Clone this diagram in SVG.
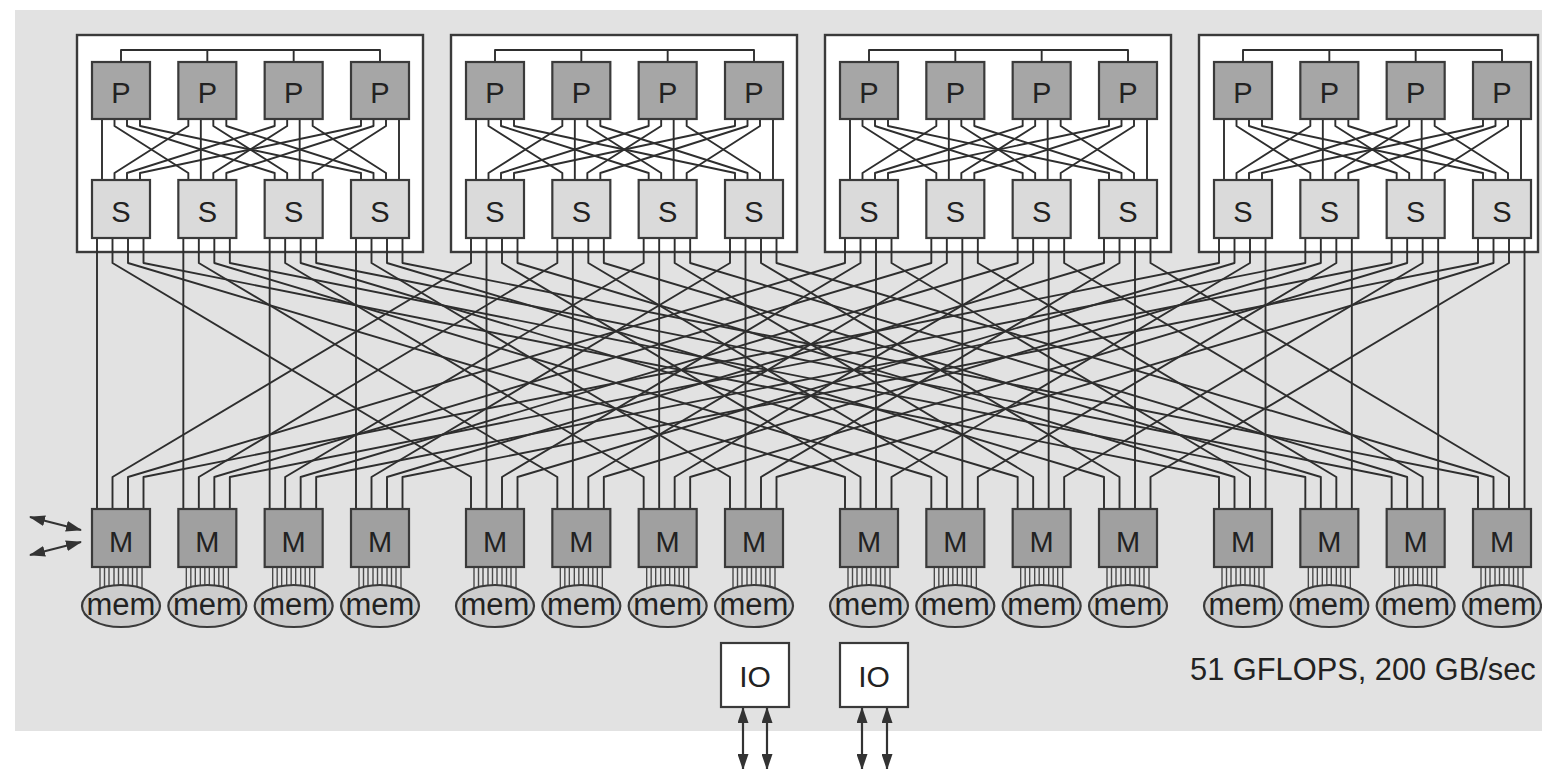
<svg xmlns="http://www.w3.org/2000/svg" xmlns:xlink="http://www.w3.org/1999/xlink" width="1542" height="769" viewBox="0 0 1542 769">
<style>
.bg{fill:#e2e2e2;stroke:none}
.mod{fill:#ffffff;stroke:#3a3a3a;stroke-width:2.4}
.p{fill:#a6a6a6;stroke:#3a3a3a;stroke-width:2.2}
.s{fill:#dadada;stroke:#3a3a3a;stroke-width:2.2}
.m{fill:#a0a0a0;stroke:#3a3a3a;stroke-width:2.2}
.mem{fill:#cdcdcd;stroke:#3a3a3a;stroke-width:2.2}
.io{fill:#ffffff;stroke:#3a3a3a;stroke-width:2.2}
.lbl{font-family:"Liberation Sans",Arial,sans-serif;font-size:29px;fill:#222;text-anchor:middle}
.meml{font-family:"Liberation Sans",Arial,sans-serif;font-size:31px;fill:#222;text-anchor:middle}
.note{font-family:"Liberation Sans",Arial,sans-serif;font-size:30.8px;fill:#222}
.wire{fill:none;stroke:#2e2e2e;stroke-width:1.9;stroke-linejoin:round}
.comb{stroke:#4a4a4a;stroke-width:1.4}
.arr{stroke:#333;stroke-width:2.2;fill:none;marker-start:url(#ah);marker-end:url(#ah)}
</style>
<defs>
<marker id="ah" viewBox="0 0 16 11" refX="15" refY="5.5" markerWidth="16" markerHeight="11" markerUnits="userSpaceOnUse" orient="auto-start-reverse"><path d="M0,0 L16,5.5 L0,11 z" fill="#333"/></marker>
<g id="modwire" class="wire">
<path d="M121,62 V50 H380 V62 M207.33,50 V62 M293.67,50 V62"/>
<path d="M102,119 V180"/>
<path d="M114.5,119 V126 L188.33,173 V180"/>
<path d="M127,119 V126 L274.67,173 V180"/>
<path d="M140,119 V126 L361,173 V180"/>
<path d="M188.33,119 V126 L114.5,173 V180"/>
<path d="M200.83,119 V180"/>
<path d="M213.33,119 V126 L287.17,173 V180"/>
<path d="M226.33,119 V126 L373.5,173 V180"/>
<path d="M274.67,119 V126 L127,173 V180"/>
<path d="M287.17,119 V126 L213.33,173 V180"/>
<path d="M299.67,119 V180"/>
<path d="M312.67,119 V126 L386,173 V180"/>
<path d="M361,119 V126 L140,173 V180"/>
<path d="M373.5,119 V126 L226.33,173 V180"/>
<path d="M386,119 V126 L312.67,173 V180"/>
<path d="M399,119 V180"/>
</g>
<g id="smwire" class="wire">
<path d="M97,238 V509"/>
<path d="M112.5,238 V263 L471,477 V509"/>
<path d="M128,238 V263 L845,477 V509"/>
<path d="M143.5,238 V263 L1219,477 V509"/>
<path d="M471,238 V263 L112.5,477 V509"/>
<path d="M486.5,238 V509"/>
<path d="M502,238 V263 L860.5,477 V509"/>
<path d="M517.5,238 V263 L1234.5,477 V509"/>
<path d="M845,238 V263 L128,477 V509"/>
<path d="M860.5,238 V263 L502,477 V509"/>
<path d="M876,238 V509"/>
<path d="M891.5,238 V263 L1250,477 V509"/>
<path d="M1219,238 V263 L143.5,477 V509"/>
<path d="M1234.5,238 V263 L517.5,477 V509"/>
<path d="M1250,238 V263 L891.5,477 V509"/>
<path d="M1265.5,238 V509"/>
</g>
<g id="comb" class="comb">
<line x1="8" y1="567" x2="8" y2="592"/><line x1="12.5" y1="567" x2="12.5" y2="592"/>
<line x1="17" y1="567" x2="17" y2="592"/><line x1="22" y1="567" x2="22" y2="592"/>
<line x1="26.5" y1="567" x2="26.5" y2="592"/><line x1="31" y1="567" x2="31" y2="592"/>
<line x1="36" y1="567" x2="36" y2="592"/><line x1="40.5" y1="567" x2="40.5" y2="592"/>
<line x1="45" y1="567" x2="45" y2="592"/><line x1="50" y1="567" x2="50" y2="592"/>
</g>
</defs>

<rect class="bg" x="15" y="10" width="1527" height="721"/>

<g id="modules">
<rect id="module-1" class="mod" x="77" y="35" width="346" height="217"/>
<rect id="module-2" class="mod" x="451" y="35" width="346" height="217"/>
<rect id="module-3" class="mod" x="825" y="35" width="346" height="217"/>
<rect id="module-4" class="mod" x="1199" y="35" width="339" height="217"/>
</g>

<g id="connectors">
<use xlink:href="#modwire" href="#modwire"/>
<use xlink:href="#modwire" href="#modwire" x="374"/>
<use xlink:href="#modwire" href="#modwire" x="748"/>
<use xlink:href="#modwire" href="#modwire" x="1122"/>
<use xlink:href="#smwire" href="#smwire"/>
<use xlink:href="#smwire" href="#smwire" x="86.33"/>
<use xlink:href="#smwire" href="#smwire" x="172.67"/>
<use xlink:href="#smwire" href="#smwire" x="259"/>
<use href="#comb" x="92"/><use href="#comb" x="178.33"/><use href="#comb" x="264.67"/><use href="#comb" x="351"/>
<use href="#comb" x="466"/><use href="#comb" x="552.33"/><use href="#comb" x="638.67"/><use href="#comb" x="725"/>
<use href="#comb" x="840"/><use href="#comb" x="926.33"/><use href="#comb" x="1012.67"/><use href="#comb" x="1099"/>
<use href="#comb" x="1214"/><use href="#comb" x="1300.33"/><use href="#comb" x="1386.67"/><use href="#comb" x="1473"/>
<line class="arr" x1="30" y1="517" x2="81" y2="530"/>
<line class="arr" x1="30" y1="555" x2="81" y2="542"/>
<line class="arr" x1="743" y1="708" x2="743" y2="769"/>
<line class="arr" x1="767" y1="708" x2="767" y2="769"/>
<line class="arr" x1="862" y1="708" x2="862" y2="769"/>
<line class="arr" x1="887" y1="708" x2="887" y2="769"/>
</g>

<g id="P-1-1"><rect class="p" x="92" y="62" width="58" height="57"/><text class="lbl" x="121" y="103">P</text></g>
<g id="P-1-2"><rect class="p" x="178.33" y="62" width="58" height="57"/><text class="lbl" x="207.33" y="103">P</text></g>
<g id="P-1-3"><rect class="p" x="264.67" y="62" width="58" height="57"/><text class="lbl" x="293.67" y="103">P</text></g>
<g id="P-1-4"><rect class="p" x="351" y="62" width="58" height="57"/><text class="lbl" x="380" y="103">P</text></g>
<g id="P-2-1"><rect class="p" x="466" y="62" width="58" height="57"/><text class="lbl" x="495" y="103">P</text></g>
<g id="P-2-2"><rect class="p" x="552.33" y="62" width="58" height="57"/><text class="lbl" x="581.33" y="103">P</text></g>
<g id="P-2-3"><rect class="p" x="638.67" y="62" width="58" height="57"/><text class="lbl" x="667.67" y="103">P</text></g>
<g id="P-2-4"><rect class="p" x="725" y="62" width="58" height="57"/><text class="lbl" x="754" y="103">P</text></g>
<g id="P-3-1"><rect class="p" x="840" y="62" width="58" height="57"/><text class="lbl" x="869" y="103">P</text></g>
<g id="P-3-2"><rect class="p" x="926.33" y="62" width="58" height="57"/><text class="lbl" x="955.33" y="103">P</text></g>
<g id="P-3-3"><rect class="p" x="1012.67" y="62" width="58" height="57"/><text class="lbl" x="1041.67" y="103">P</text></g>
<g id="P-3-4"><rect class="p" x="1099" y="62" width="58" height="57"/><text class="lbl" x="1128" y="103">P</text></g>
<g id="P-4-1"><rect class="p" x="1214" y="62" width="58" height="57"/><text class="lbl" x="1243" y="103">P</text></g>
<g id="P-4-2"><rect class="p" x="1300.33" y="62" width="58" height="57"/><text class="lbl" x="1329.33" y="103">P</text></g>
<g id="P-4-3"><rect class="p" x="1386.67" y="62" width="58" height="57"/><text class="lbl" x="1415.67" y="103">P</text></g>
<g id="P-4-4"><rect class="p" x="1473" y="62" width="58" height="57"/><text class="lbl" x="1502" y="103">P</text></g>

<g id="S-1-1"><rect class="s" x="92" y="180" width="58" height="58"/><text class="lbl" x="121" y="222">S</text></g>
<g id="S-1-2"><rect class="s" x="178.33" y="180" width="58" height="58"/><text class="lbl" x="207.33" y="222">S</text></g>
<g id="S-1-3"><rect class="s" x="264.67" y="180" width="58" height="58"/><text class="lbl" x="293.67" y="222">S</text></g>
<g id="S-1-4"><rect class="s" x="351" y="180" width="58" height="58"/><text class="lbl" x="380" y="222">S</text></g>
<g id="S-2-1"><rect class="s" x="466" y="180" width="58" height="58"/><text class="lbl" x="495" y="222">S</text></g>
<g id="S-2-2"><rect class="s" x="552.33" y="180" width="58" height="58"/><text class="lbl" x="581.33" y="222">S</text></g>
<g id="S-2-3"><rect class="s" x="638.67" y="180" width="58" height="58"/><text class="lbl" x="667.67" y="222">S</text></g>
<g id="S-2-4"><rect class="s" x="725" y="180" width="58" height="58"/><text class="lbl" x="754" y="222">S</text></g>
<g id="S-3-1"><rect class="s" x="840" y="180" width="58" height="58"/><text class="lbl" x="869" y="222">S</text></g>
<g id="S-3-2"><rect class="s" x="926.33" y="180" width="58" height="58"/><text class="lbl" x="955.33" y="222">S</text></g>
<g id="S-3-3"><rect class="s" x="1012.67" y="180" width="58" height="58"/><text class="lbl" x="1041.67" y="222">S</text></g>
<g id="S-3-4"><rect class="s" x="1099" y="180" width="58" height="58"/><text class="lbl" x="1128" y="222">S</text></g>
<g id="S-4-1"><rect class="s" x="1214" y="180" width="58" height="58"/><text class="lbl" x="1243" y="222">S</text></g>
<g id="S-4-2"><rect class="s" x="1300.33" y="180" width="58" height="58"/><text class="lbl" x="1329.33" y="222">S</text></g>
<g id="S-4-3"><rect class="s" x="1386.67" y="180" width="58" height="58"/><text class="lbl" x="1415.67" y="222">S</text></g>
<g id="S-4-4"><rect class="s" x="1473" y="180" width="58" height="58"/><text class="lbl" x="1502" y="222">S</text></g>

<g id="M-1-1"><rect class="m" x="92" y="509" width="58" height="58"/><text class="lbl" x="121" y="552">M</text></g>
<g id="M-1-2"><rect class="m" x="178.33" y="509" width="58" height="58"/><text class="lbl" x="207.33" y="552">M</text></g>
<g id="M-1-3"><rect class="m" x="264.67" y="509" width="58" height="58"/><text class="lbl" x="293.67" y="552">M</text></g>
<g id="M-1-4"><rect class="m" x="351" y="509" width="58" height="58"/><text class="lbl" x="380" y="552">M</text></g>
<g id="M-2-1"><rect class="m" x="466" y="509" width="58" height="58"/><text class="lbl" x="495" y="552">M</text></g>
<g id="M-2-2"><rect class="m" x="552.33" y="509" width="58" height="58"/><text class="lbl" x="581.33" y="552">M</text></g>
<g id="M-2-3"><rect class="m" x="638.67" y="509" width="58" height="58"/><text class="lbl" x="667.67" y="552">M</text></g>
<g id="M-2-4"><rect class="m" x="725" y="509" width="58" height="58"/><text class="lbl" x="754" y="552">M</text></g>
<g id="M-3-1"><rect class="m" x="840" y="509" width="58" height="58"/><text class="lbl" x="869" y="552">M</text></g>
<g id="M-3-2"><rect class="m" x="926.33" y="509" width="58" height="58"/><text class="lbl" x="955.33" y="552">M</text></g>
<g id="M-3-3"><rect class="m" x="1012.67" y="509" width="58" height="58"/><text class="lbl" x="1041.67" y="552">M</text></g>
<g id="M-3-4"><rect class="m" x="1099" y="509" width="58" height="58"/><text class="lbl" x="1128" y="552">M</text></g>
<g id="M-4-1"><rect class="m" x="1214" y="509" width="58" height="58"/><text class="lbl" x="1243" y="552">M</text></g>
<g id="M-4-2"><rect class="m" x="1300.33" y="509" width="58" height="58"/><text class="lbl" x="1329.33" y="552">M</text></g>
<g id="M-4-3"><rect class="m" x="1386.67" y="509" width="58" height="58"/><text class="lbl" x="1415.67" y="552">M</text></g>
<g id="M-4-4"><rect class="m" x="1473" y="509" width="58" height="58"/><text class="lbl" x="1502" y="552">M</text></g>

<g id="mem-1-1"><ellipse class="mem" cx="121" cy="606" rx="39" ry="21"/><text class="meml" x="121" y="615">mem</text></g>
<g id="mem-1-2"><ellipse class="mem" cx="207.33" cy="606" rx="39" ry="21"/><text class="meml" x="207.33" y="615">mem</text></g>
<g id="mem-1-3"><ellipse class="mem" cx="293.67" cy="606" rx="39" ry="21"/><text class="meml" x="293.67" y="615">mem</text></g>
<g id="mem-1-4"><ellipse class="mem" cx="380" cy="606" rx="39" ry="21"/><text class="meml" x="380" y="615">mem</text></g>
<g id="mem-2-1"><ellipse class="mem" cx="495" cy="606" rx="39" ry="21"/><text class="meml" x="495" y="615">mem</text></g>
<g id="mem-2-2"><ellipse class="mem" cx="581.33" cy="606" rx="39" ry="21"/><text class="meml" x="581.33" y="615">mem</text></g>
<g id="mem-2-3"><ellipse class="mem" cx="667.67" cy="606" rx="39" ry="21"/><text class="meml" x="667.67" y="615">mem</text></g>
<g id="mem-2-4"><ellipse class="mem" cx="754" cy="606" rx="39" ry="21"/><text class="meml" x="754" y="615">mem</text></g>
<g id="mem-3-1"><ellipse class="mem" cx="869" cy="606" rx="39" ry="21"/><text class="meml" x="869" y="615">mem</text></g>
<g id="mem-3-2"><ellipse class="mem" cx="955.33" cy="606" rx="39" ry="21"/><text class="meml" x="955.33" y="615">mem</text></g>
<g id="mem-3-3"><ellipse class="mem" cx="1041.67" cy="606" rx="39" ry="21"/><text class="meml" x="1041.67" y="615">mem</text></g>
<g id="mem-3-4"><ellipse class="mem" cx="1128" cy="606" rx="39" ry="21"/><text class="meml" x="1128" y="615">mem</text></g>
<g id="mem-4-1"><ellipse class="mem" cx="1243" cy="606" rx="39" ry="21"/><text class="meml" x="1243" y="615">mem</text></g>
<g id="mem-4-2"><ellipse class="mem" cx="1329.33" cy="606" rx="39" ry="21"/><text class="meml" x="1329.33" y="615">mem</text></g>
<g id="mem-4-3"><ellipse class="mem" cx="1415.67" cy="606" rx="39" ry="21"/><text class="meml" x="1415.67" y="615">mem</text></g>
<g id="mem-4-4"><ellipse class="mem" cx="1502" cy="606" rx="39" ry="21"/><text class="meml" x="1502" y="615">mem</text></g>

<g id="IO-1"><rect class="io" x="721" y="643" width="68" height="64"/><text class="lbl" x="755" y="687" style="font-size:30px">IO</text></g>
<g id="IO-2"><rect class="io" x="840" y="643" width="68" height="64"/><text class="lbl" x="874" y="687" style="font-size:30px">IO</text></g>

<text class="note" x="1190" y="680">51 GFLOPS, 200 GB/sec</text>
</svg>
